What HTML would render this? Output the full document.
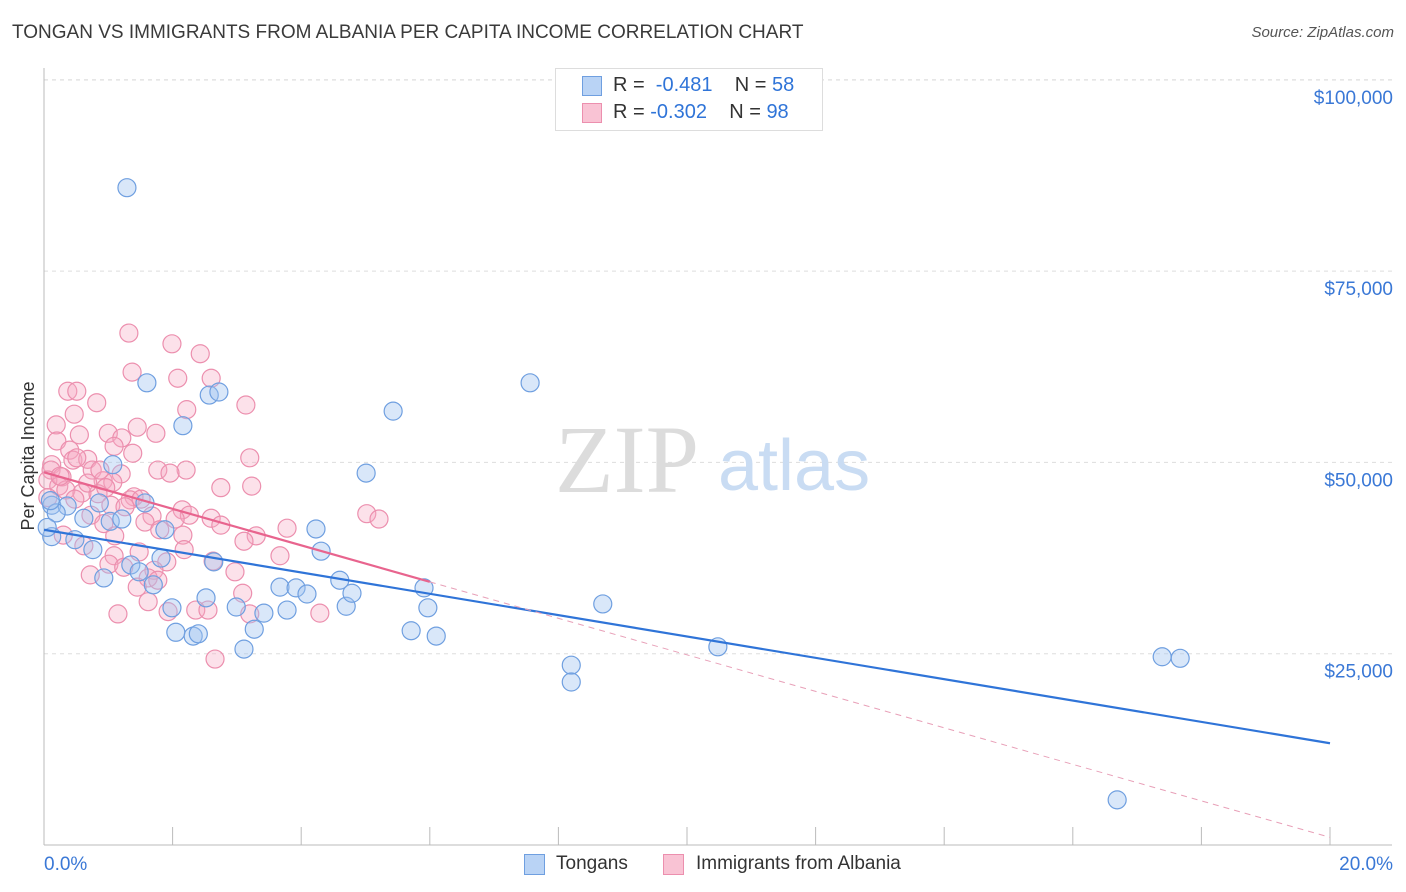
<!DOCTYPE html>
<html><head><meta charset="utf-8">
<style>
body{margin:0;background:#fff;font-family:"Liberation Sans",sans-serif;}
#wrap{position:relative;width:1406px;height:892px;overflow:hidden;}
.t{position:absolute;white-space:nowrap;}
</style></head>
<body>
<div id="wrap">
<div class="t" style="left:12px;top:22px;font-size:19px;color:#3a3a3a;">TONGAN VS IMMIGRANTS FROM ALBANIA PER CAPITA INCOME CORRELATION CHART</div>
<div class="t" style="right:12px;top:24px;font-size:15px;color:#555;font-style:italic;">Source: ZipAtlas.com</div>
<svg id="svg" width="1406" height="892" style="position:absolute;left:0;top:0"></svg>
</div>
<script>
const xTicks=[0,2,4,6,8,10,12,14,16,18,20];
const yTicks=[25000,50000,75000,100000];
const yTickLabels=["$25,000","$50,000","$75,000","$100,000"];
const xLabels=["0.0%","20.0%"];
const blueX=[1.29,1.60,2.57,2.72,2.16,5.43,7.56,5.01,1.07,0.12,0.36,0.62,0.86,1.03,1.21,1.57,1.88,0.12,0.48,0.76,0.93,1.35,1.48,1.70,1.82,2.64,1.99,2.05,2.32,2.40,2.52,2.99,3.11,3.27,3.42,3.67,3.78,3.92,4.09,4.23,4.31,4.60,4.70,4.79,5.91,5.97,5.71,6.10,8.69,8.20,8.20,10.48,17.39,17.67,16.69,0.19,0.05,0.10];
const blueY=[85.9,60.4,58.8,59.2,54.8,56.7,60.4,48.6,49.7,44.4,44.3,42.7,44.7,42.3,42.6,44.7,41.2,40.3,39.9,38.6,34.9,36.6,35.7,34.0,37.5,37.0,31.0,27.8,27.3,27.6,32.3,31.1,25.6,28.2,30.3,33.7,30.7,33.6,32.8,41.3,38.4,34.6,31.2,32.9,33.6,31.0,28.0,27.3,31.5,23.5,21.3,25.9,24.6,24.4,5.9,43.4,41.5,45.0];
const pinkX=[1.32,1.99,2.43,1.37,2.08,2.60,0.37,0.51,3.14,0.82,2.22,0.47,0.19,1.45,1.00,0.55,1.74,1.21,0.20,0.40,1.09,0.45,0.68,0.12,0.11,1.77,2.21,1.96,0.75,1.20,0.28,0.06,0.92,0.23,1.07,3.23,2.75,0.34,0.59,0.84,1.40,1.34,1.51,1.04,1.26,2.15,2.26,0.73,5.02,5.21,1.68,2.04,0.93,1.57,1.80,2.16,3.78,3.30,3.11,0.30,1.10,0.62,1.48,2.18,3.67,1.09,2.63,1.91,1.01,1.24,1.71,2.97,0.72,1.62,1.77,3.09,1.45,1.62,2.36,2.55,4.29,3.20,1.15,1.93,2.66,0.06,0.25,0.48,0.87,0.68,2.60,2.75,0.96,1.38,0.51,3.20];
const pinkY=[66.9,65.5,64.2,61.8,61.0,61.0,59.3,59.3,57.5,57.8,56.9,56.3,54.9,54.6,53.8,53.6,53.8,53.2,52.8,51.6,52.1,50.3,50.4,49.7,49.0,49.0,49.0,48.6,49.0,48.5,48.1,47.7,47.6,46.9,47.4,46.9,46.7,46.4,46.0,45.9,45.5,45.1,45.2,44.4,44.2,43.8,43.1,43.1,43.3,42.6,43.0,42.6,42.0,42.2,41.2,40.5,41.4,40.4,39.7,40.5,40.4,39.1,38.3,38.6,37.8,37.8,37.1,37.0,36.7,36.3,35.9,35.7,35.3,34.9,34.6,32.9,33.7,31.8,30.7,30.7,30.3,30.2,30.2,30.5,24.3,45.4,48.2,45.2,49.0,47.3,42.7,41.8,46.7,51.2,50.6,50.6];
const blueLine=[41.2,13.3];
const pinkLine=[48.7,1.0];
const pinkSolidEnd=6.0;

const X0=44,X1=1330,Y0=845,YPX=191.3/25000;
const sx=v=>X0+(v/20)*(X1-X0);
const sy=v=>Y0-v*YPX;
const svg=document.getElementById('svg');
const NS='http://www.w3.org/2000/svg';
function mk(t,a){const e=document.createElementNS(NS,t);for(const k in a)e.setAttribute(k,a[k]);svg.appendChild(e);return e;}

yTicks.forEach((v,i)=>{
 const g=mk('line',{x1:X0,x2:1392,y1:sy(v),y2:sy(v),stroke:'#ddd','stroke-dasharray':'4,4'});
 
 
 const t=mk('text',{x:1393,y:sy(v)+24,'text-anchor':'end','font-size':19,fill:'#3a78d6','font-family':'Liberation Sans, sans-serif'});
 t.textContent=yTickLabels[i];
 
 
});
const tg=mk('line',{x1:X0,x2:1392,y1:80,y2:80,stroke:'#ddd','stroke-dasharray':'4,4'});


const ya=mk('line',{x1:X0,x2:X0,y1:68,y2:Y0,stroke:'#bbb'});


const xa=mk('line',{x1:X0,x2:1392,y1:Y0,y2:Y0,stroke:'#bbb'});


xTicks.forEach(v=>{
 const l=mk('line',{x1:sx(v),x2:sx(v),y1:Y0,y2:Y0-18,stroke:'#bbb'});
 
 
});
[[0,'start',44],[20,'end',1393]].forEach((d,i)=>{
 const t=mk('text',{x:d[2],y:870,'text-anchor':d[1],'font-size':19,fill:'#3a78d6','font-family':'Liberation Sans, sans-serif'});
 t.textContent=xLabels[i];
 
 
});
const yt=mk('text',{x:34,y:456,transform:'rotate(-90 34 456)','text-anchor':'middle','font-size':18,fill:'#333','font-family':'Liberation Sans, sans-serif'});
yt.textContent='Per Capita Income';


const w1=mk('text',{x:555,y:492,'font-size':96,fill:'#dcdcdc','font-family':'Liberation Serif, serif'});
w1.textContent='ZIP';


const w2=mk('text',{x:718,y:490,'font-size':72,fill:'#c9dcf3','font-family':'Liberation Sans, sans-serif'});
w2.textContent='atlas';



pinkX.forEach((x,i)=>{
 const c=mk('circle',{cx:sx(x),cy:sy(pinkY[i]*1000),r:9,fill:'rgba(246,170,196,0.35)',stroke:'#ec8fae','stroke-width':1.2});
 
 
});
blueX.forEach((x,i)=>{
 const c=mk('circle',{cx:sx(x),cy:sy(blueY[i]*1000),r:9,fill:'rgba(160,196,240,0.4)',stroke:'#6f9fe0','stroke-width':1.2});
 
 
});
const bl=mk('line',{x1:sx(0),y1:sy(blueLine[0]*1000),x2:sx(20),y2:sy(blueLine[1]*1000),stroke:'#2f74d8','stroke-width':2.2});


const pAt=x=>pinkLine[0]+(pinkLine[1]-pinkLine[0])*x/20;
const pl=mk('line',{x1:sx(0),y1:sy(pinkLine[0]*1000),x2:sx(pinkSolidEnd),y2:sy(pAt(pinkSolidEnd)*1000),stroke:'#e8648e','stroke-width':2.2});


const pd=mk('line',{x1:sx(pinkSolidEnd),y1:sy(pAt(pinkSolidEnd)*1000),x2:sx(20),y2:sy(pinkLine[1]*1000),stroke:'#e8a0b8','stroke-width':1,'stroke-dasharray':'6,5'});


</script>
<div class="t" style="left:555px;top:68px;width:266px;height:61px;border:1px solid #ddd;background:#fff;">
 <div class="t" style="left:26px;top:7px;width:18px;height:18px;background:#b9d3f5;border:1px solid #6f9fe0;"></div>
 <div class="t" style="left:57px;top:5px;font-size:20px;color:#333;">R = <span style="color:#2f74d8">&nbsp;-0.481</span>&nbsp;&nbsp;&nbsp; N = <span style="color:#2f74d8">58</span></div>
 <div class="t" style="left:26px;top:34px;width:18px;height:18px;background:#f9c3d4;border:1px solid #ec8fae;"></div>
 <div class="t" style="left:57px;top:32px;font-size:20px;color:#333;">R = <span style="color:#2f74d8">-0.302</span>&nbsp;&nbsp;&nbsp; N = <span style="color:#2f74d8">98</span></div>
</div>
<div class="t" style="left:524px;top:854px;width:19px;height:19px;background:#b9d3f5;border:1px solid #6f9fe0;"></div>
<div class="t" style="left:556px;top:853px;font-size:19px;color:#333;">Tongans</div>
<div class="t" style="left:663px;top:854px;width:19px;height:19px;background:#f9c3d4;border:1px solid #ec8fae;"></div>
<div class="t" style="left:696px;top:853px;font-size:19px;color:#333;">Immigrants from Albania</div>
</body></html>
